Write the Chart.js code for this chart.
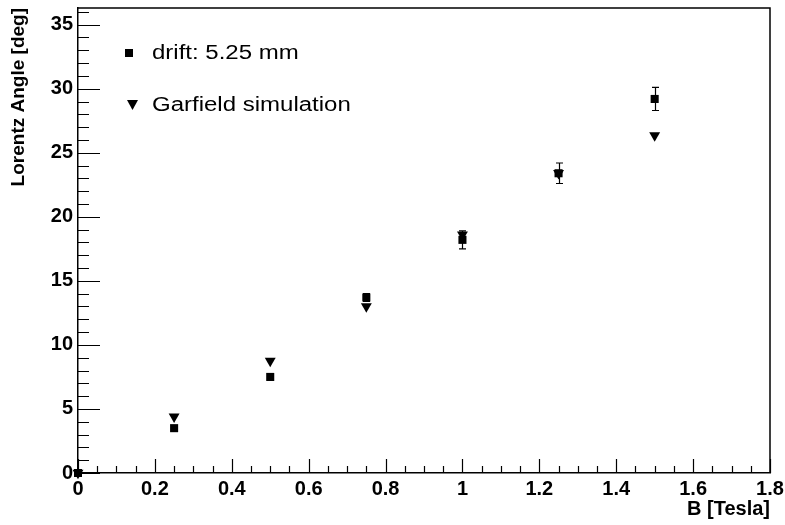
<!DOCTYPE html>
<html>
<head>
<meta charset="utf-8">
<script src="https://cdn.jsdelivr.net/npm/chart.js@4/dist/chart.umd.min.js"></script>
<style>
  body { margin: 0; background: #fff; }
  #wrap { width: 785px; height: 525px; }
</style>
</head>
<body>
<div id="wrap"><canvas id="myChart" width="785" height="525"></canvas></div>
<script>
// B field values (Tesla)
var bField = [0, 0.25, 0.5, 0.75, 1.0, 1.25, 1.5];
// measured lorentz angle, drift 5.25 mm
var driftAngle = [0, 3.5, 7.5, 13.7, 18.2, 23.4, 29.2];
var driftErr = [0, 0.2, 0.25, 0.3, 0.7, 0.8, 0.9];
// garfield simulation
var garfieldAngle = [0, 4.4, 8.75, 13.0, 18.6, 23.4, 26.35];

var legendLabels = ["drift: 5.25 mm", "Garfield simulation"];
var xTitle = "B [Tesla]";
var yTitle = "Lorentz Angle [deg]";

Chart.defaults.font.family = "'Liberation Sans', Arial, sans-serif";
Chart.defaults.color = "#000";

function toPoints(xs, ys) {
  var pts = [];
  for (var i in xs) {
    pts.push({ x: xs[i], y: ys[i] });
  }
  return pts;
}

// ROOT style frame: top/right lines and ticks pointing inside
var framePlugin = {
  id: "frame",
  afterDraw: function(chart) {
    var ctx = chart.ctx;
    var a = chart.chartArea;
    var xs = chart.scales.x, ys = chart.scales.y;
    ctx.save();
    ctx.strokeStyle = "#000";
    ctx.lineWidth = 1.5;
    ctx.beginPath();
    ctx.moveTo(a.left, a.top);
    ctx.lineTo(a.right, a.top);
    ctx.lineTo(a.right, a.bottom);
    ctx.stroke();

    ctx.lineWidth = 1.2;
    ctx.beginPath();
    for (var v = 0; v <= ys.max + 1e-9; v += 1) {
      var py = Math.round(ys.getPixelForValue(v)) + 0.5;
      var len = (Math.round(v) % 5 === 0) ? 22 : 11;
      ctx.moveTo(a.left, py);
      ctx.lineTo(a.left + len, py);
    }
    for (var k = 0; k <= 36; k++) {
      var xv = k * 0.05;
      var px = Math.round(xs.getPixelForValue(xv)) + 0.5;
      var l2 = (k % 4 === 0) ? 14 : 7;
      ctx.moveTo(px, a.bottom);
      ctx.lineTo(px, a.bottom - l2);
    }
    ctx.stroke();
    ctx.restore();
  }
};

// vertical error bars on the measured points
var errorBarPlugin = {
  id: "errbars",
  afterDatasetsDraw: function(chart) {
    var ctx = chart.ctx;
    var xs = chart.scales.x, ys = chart.scales.y;
    ctx.save();
    ctx.strokeStyle = "#000";
    ctx.lineWidth = 1.2;
    ctx.beginPath();
    for (var i = 0; i < bField.length; i++) {
      if (!driftErr[i]) continue;
      var px = Math.round(xs.getPixelForValue(bField[i])) + 0.5;
      var y1 = ys.getPixelForValue(driftAngle[i] - driftErr[i]);
      var y2 = ys.getPixelForValue(driftAngle[i] + driftErr[i]);
      ctx.moveTo(px, y1); ctx.lineTo(px, y2);
      ctx.moveTo(px - 3.5, y1); ctx.lineTo(px + 3.5, y1);
      ctx.moveTo(px - 3.5, y2); ctx.lineTo(px + 3.5, y2);
    }
    ctx.stroke();
    ctx.restore();
  }
};

// legend box inside the frame, no border
var legendPlugin = {
  id: "rootLegend",
  afterDraw: function(chart) {
    var ctx = chart.ctx;
    ctx.save();
    ctx.fillStyle = "#000";
    // square marker
    ctx.fillRect(125, 49, 8, 8);
    // down triangle marker
    ctx.beginPath();
    ctx.moveTo(127, 100);
    ctx.lineTo(138, 100);
    ctx.lineTo(132.5, 110);
    ctx.closePath();
    ctx.fill();

    ctx.font = "20px 'Liberation Sans', Arial, sans-serif";
    ctx.textBaseline = "middle";
    var rows = [[152, 53], [152, 105]];
    for (var i = 0; i < legendLabels.length; i++) {
      ctx.save();
      ctx.translate(rows[i][0], rows[i][1]);
      ctx.scale(1.2, 1);
      ctx.fillText(legendLabels[i], 0, 0);
      ctx.restore();
    }
    ctx.restore();
  }
};

var ctx = document.getElementById("myChart").getContext("2d");
var myChart = new Chart(ctx, {
  type: "scatter",
  data: {
    datasets: [
      {
        label: legendLabels[1],
        data: toPoints(bField, garfieldAngle),
        pointStyle: "triangle",
        rotation: 180,
        pointRadius: 6.3,
        backgroundColor: "#000",
        borderColor: "#000",
        borderWidth: 0,
        showLine: false,
        clip: false
      },
      {
        label: legendLabels[0],
        data: toPoints(bField, driftAngle),
        pointStyle: "rect",
        pointRadius: 5.7,
        backgroundColor: "#000",
        borderColor: "#000",
        borderWidth: 0,
        showLine: false,
        clip: false
      }
    ]
  },
  options: {
    responsive: false,
    animation: false,
    devicePixelRatio: 1,
    layout: { padding: { top: 8, right: 15, left: 0, bottom: 0 } },
    plugins: {
      legend: { display: false },
      tooltip: { enabled: false }
    },
    scales: {
      x: {
        type: "linear",
        min: 0,
        max: 1.8,
        afterFit: function(scale) {
          scale.height = 52;
          scale.paddingLeft = 0;
          scale.paddingRight = 0;
        },
        grid: { display: false, drawTicks: false },
        border: { display: true, color: "#000", width: 1.5 },
        ticks: {
          stepSize: 0.2,
          autoSkip: false,
          maxRotation: 0,
          padding: 4,
          color: "#000",
          font: { size: 20, weight: "bold" },
          callback: function(v) { return String(parseFloat(v.toFixed(1))); }
        },
        title: {
          display: true,
          text: xTitle,
          align: "end",
          color: "#000",
          font: { size: 20, weight: "bold" },
          padding: { top: 0, bottom: 4 }
        }
      },
      y: {
        type: "linear",
        min: 0,
        max: 36.3,
        afterFit: function(scale) {
          scale.width = 78;
          scale.paddingTop = 0;
          scale.paddingBottom = 0;
        },
        grid: { display: false, drawTicks: false },
        border: { display: true, color: "#000", width: 1.5 },
        ticks: {
          stepSize: 5,
          includeBounds: false,
          padding: 5,
          color: "#000",
          font: { size: 20, weight: "bold" }
        },
        title: {
          display: true,
          text: yTitle,
          align: "end",
          color: "#000",
          font: { size: 19, weight: "bold" },
          padding: { top: 7, bottom: 0 }
        }
      }
    }
  },
  plugins: [framePlugin, errorBarPlugin, legendPlugin]
});
</script>
</body>
</html>
